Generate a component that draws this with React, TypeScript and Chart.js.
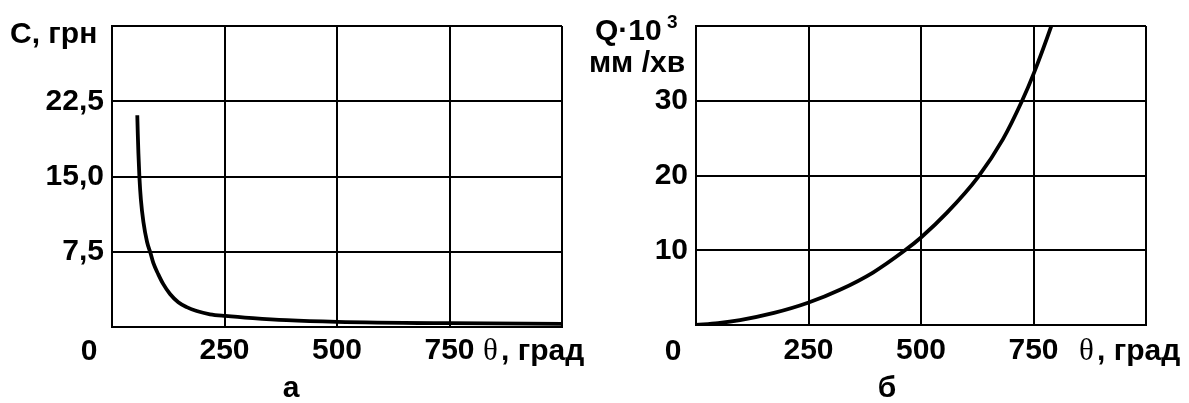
import React, { useEffect, useRef } from 'react';
import { Chart, registerables } from 'chart.js';

Chart.register(...registerables);

const SANS = '"Liberation Sans", Arial, Helvetica, sans-serif';
const SERIF = '"Liberation Serif", "Times New Roman", serif';
const BOLD = `bold 30px ${SANS}`;

// Panel "а": cost C, грн, against θ, град
const costTheta = [56.2, 57.3, 58.7, 60.9, 64.2, 69.8, 77.8, 85.8, 91.8, 102.9, 114, 128.9, 147.3, 166, 188.2, 217.8, 251.8, 313, 388, 500, 751, 1000];
const costValues = [21.1, 19.25, 17.3, 14.95, 12.7, 10.46, 8.5, 7.33, 6.38, 5.25, 4.27, 3.29, 2.47, 1.98, 1.59, 1.27, 1.1, 0.88, 0.68, 0.52, 0.38, 0.32];

// Panel "б": flow Q·10³, мм/хв, against θ, град
const flowTheta = [0, 48.9, 97.8, 173.3, 248.9, 320, 393.3, 464.4, 500, 557.8, 626.7, 682.2, 724.4, 751.1, 788.9, 808.9];
const flowValues = [0, 0.24, 0.65, 1.61, 2.97, 4.71, 7.02, 9.99, 11.71, 15.03, 19.79, 24.86, 29.96, 33.73, 39.87, 43.5];

// Axis ranges and tick steps
const thetaRange = [0, 1000];
const thetaStep = 250;
const costRange = [0, 30];
const costStep = 7.5;
const flowRange = [0, 40];
const flowStep = 10;

type TextItem = { text: string; x: number; y: number; font: string; align?: CanvasTextAlign };

type PanelSpec = {
  canvasLeft: number;
  canvasWidth: number;
  plotLeft: number;
  plotRight: number;
  plotTop: number;
  plotBottom: number;
  xs: number[];
  ys: number[];
  yRange: number[];
  yStep: number;
  yFormat: (v: number) => string;
  originOffset: number;
  texts: TextItem[];
};

const PAGE_H = 403;
const TICK_BASELINE = 360;

function buildChart(canvas: HTMLCanvasElement, p: PanelSpec) {
  const textPlugin = {
    id: 'panelText',
    afterDraw(chart: any) {
      const ctx: CanvasRenderingContext2D = chart.ctx;
      ctx.save();
      ctx.fillStyle = '#000';
      ctx.textBaseline = 'alphabetic';
      // origin label "0", placed in the row of x tick labels
      ctx.font = BOLD;
      ctx.textAlign = 'center';
      const x0 = chart.scales.x.getPixelForValue(0) + p.originOffset;
      ctx.fillText('0', x0, TICK_BASELINE);
      for (const t of p.texts) {
        ctx.font = t.font;
        ctx.textAlign = t.align || 'left';
        ctx.fillText(t.text, t.x - p.canvasLeft, t.y);
      }
      ctx.restore();
    },
  };

  return new Chart(canvas, {
    type: 'line',
    data: {
      datasets: [
        {
          data: p.xs.map((x, i) => ({ x, y: p.ys[i] })),
          borderColor: '#000',
          borderWidth: 3.8,
          pointRadius: 0,
          fill: false,
          cubicInterpolationMode: 'monotone',
        },
      ],
    },
    options: {
      responsive: false,
      animation: false,
      events: [],
      layout: {
        padding: {
          left: 0,
          top: p.plotTop,
          right: p.canvasLeft + p.canvasWidth - p.plotRight,
          bottom: 0,
        },
      },
      plugins: {
        legend: { display: false },
        tooltip: { enabled: false },
        title: { display: false },
      },
      scales: {
        x: {
          type: 'linear',
          min: thetaRange[0],
          max: thetaRange[1],
          afterFit(scale: any) {
            scale.height = PAGE_H - p.plotBottom;
          },
          ticks: {
            stepSize: thetaStep,
            color: '#000',
            font: { family: SANS, size: 30, weight: 'bold' },
            padding: 6 + (327 - p.plotBottom),
            maxRotation: 0,
            callback: (v: any) => (v === thetaRange[0] || v === thetaRange[1] ? '' : String(v)),
          },
          grid: { color: '#000', lineWidth: 2, drawTicks: false },
          border: { display: true, color: '#000', width: 2 },
        },
        y: {
          type: 'linear',
          min: p.yRange[0],
          max: p.yRange[1],
          afterFit(scale: any) {
            scale.width = p.plotLeft - p.canvasLeft;
          },
          ticks: {
            stepSize: p.yStep,
            color: '#000',
            font: { family: SANS, size: 30, weight: 'bold' },
            padding: 8,
            callback: (v: any) => (v === p.yRange[0] || v === p.yRange[1] ? '' : p.yFormat(v)),
          },
          grid: { color: '#000', lineWidth: 2, drawTicks: false },
          border: { display: true, color: '#000', width: 2 },
        },
      },
    } as any,
    plugins: [textPlugin],
  });
}

const leftPanel: PanelSpec = {
  canvasLeft: 0,
  canvasWidth: 596,
  plotLeft: 112,
  plotRight: 562,
  plotTop: 20,
  plotBottom: 327,
  xs: costTheta,
  ys: costValues,
  yRange: costRange,
  yStep: costStep,
  yFormat: (v) => v.toFixed(1).replace('.', ','),
  originOffset: -23,
  texts: [
    { text: 'C, грн', x: 10, y: 43, font: BOLD },
    { text: 'θ', x: 483, y: TICK_BASELINE, font: `31px ${SERIF}` },
    { text: ', град', x: 501, y: TICK_BASELINE, font: BOLD },
    { text: 'а', x: 291, y: 397, font: BOLD, align: 'center' },
  ],
};

const rightPanel: PanelSpec = {
  canvasLeft: 575,
  canvasWidth: 614,
  plotLeft: 696,
  plotRight: 1146,
  plotTop: 19,
  plotBottom: 325,
  xs: flowTheta,
  ys: flowValues,
  yRange: flowRange,
  yStep: flowStep,
  yFormat: (v) => String(v),
  originOffset: -23,
  texts: [
    { text: 'Q·10', x: 595, y: 40, font: BOLD },
    { text: '3', x: 667, y: 28, font: `bold 19px ${SANS}` },
    { text: 'мм /хв', x: 637, y: 72, font: BOLD, align: 'center' },
    { text: 'θ', x: 1079, y: TICK_BASELINE, font: `31px ${SERIF}` },
    { text: ', град', x: 1097, y: TICK_BASELINE, font: BOLD },
    { text: 'б', x: 887, y: 397, font: BOLD, align: 'center' },
  ],
};

export default function App() {
  const leftRef = useRef<HTMLCanvasElement>(null);
  const rightRef = useRef<HTMLCanvasElement>(null);

  useEffect(() => {
    const a = buildChart(leftRef.current!, leftPanel);
    const b = buildChart(rightRef.current!, rightPanel);
    return () => {
      a.destroy();
      b.destroy();
    };
  }, []);

  return (
    <div style={{ position: 'absolute', left: 0, top: 0, width: 1189, height: PAGE_H, background: '#fff' }}>
      <canvas
        ref={leftRef}
        width={leftPanel.canvasWidth}
        height={PAGE_H}
        style={{ position: 'absolute', left: leftPanel.canvasLeft, top: 0 }}
      />
      <canvas
        ref={rightRef}
        width={rightPanel.canvasWidth}
        height={PAGE_H}
        style={{ position: 'absolute', left: rightPanel.canvasLeft, top: 0 }}
      />
    </div>
  );
}
